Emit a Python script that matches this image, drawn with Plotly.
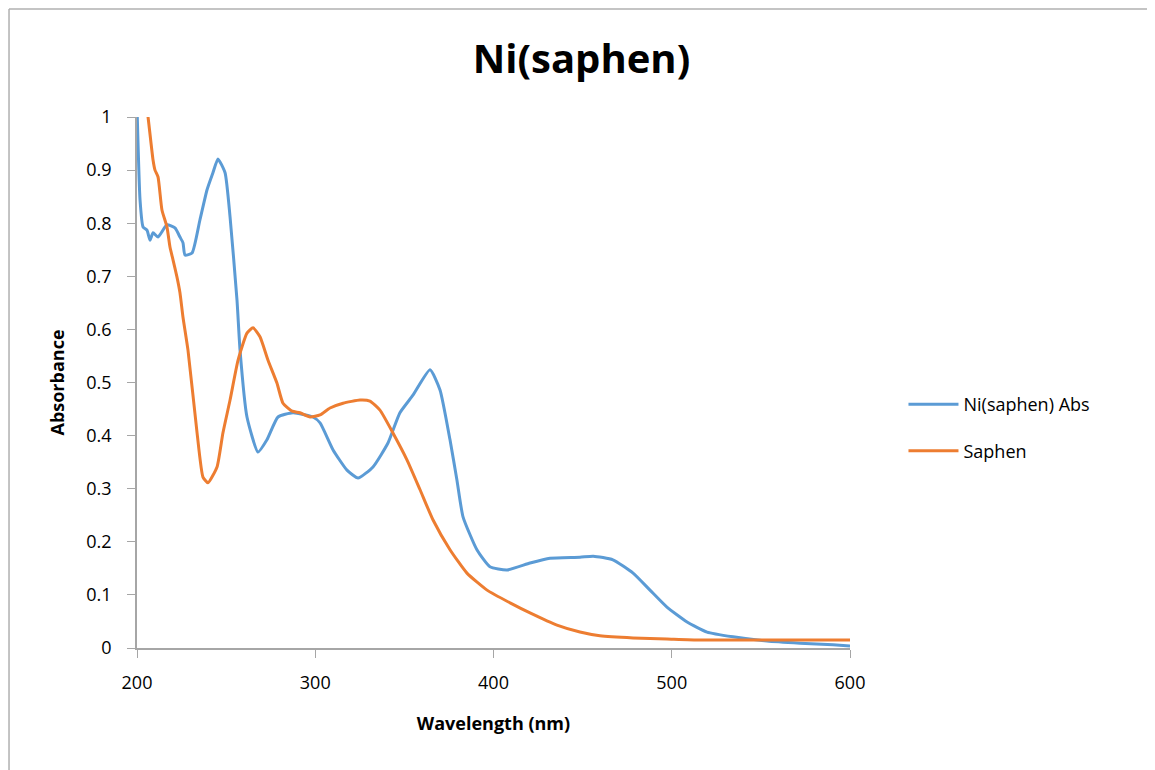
import plotly.graph_objects as go

# ---------------------------------------------------------------------------
# data
# ---------------------------------------------------------------------------

niWavelength = [
  200, 201.7, 203.4, 205.6, 207.3, 209.0, 211.8, 216.8, 221.3, 224.1,
  225.8, 226.9, 230.9, 235.3, 239.3, 242.6, 245.4, 249.4, 252.2, 256.1,
  257.8, 261.7, 267.9, 272.9, 279.1, 287.5, 298.7, 302.7, 310.0, 317.8,
  324.0, 332.4, 340.8, 347.5, 354.8, 364.4, 370.0, 375.6, 379.5, 382.9,
  390.7, 398.0, 407.6, 420.5, 431.7, 448.5, 456.0, 467.0, 478.3, 487.8,
  497.3, 508.6, 519.8, 534.4, 553.4, 572.0, 590.5, 600,
]
niAbs = [
  1.02, 0.844, 0.793, 0.787, 0.768, 0.782, 0.774, 0.797, 0.791, 0.774,
  0.763, 0.740, 0.744, 0.806, 0.863, 0.895, 0.921, 0.895, 0.812, 0.655,
  0.561, 0.435, 0.369, 0.392, 0.435, 0.443, 0.435, 0.424, 0.373, 0.335,
  0.320, 0.341, 0.386, 0.443, 0.476, 0.524, 0.486, 0.392, 0.316, 0.247,
  0.185, 0.153, 0.147, 0.160, 0.169, 0.171, 0.173, 0.166, 0.141, 0.109,
  0.077, 0.049, 0.030, 0.021, 0.013, 0.009, 0.006, 0.004,
]

saphenWavelength = [
  205.0, 206.2, 209.0, 210.1, 211.8, 214.0, 216.8, 218.5, 220.2, 222.4,
  224.1, 225.8, 228.6, 233.7, 237.0, 239.8, 244.9, 248.2, 252.2, 256.7,
  261.7, 265.1, 269.0, 273.5, 278.5, 281.9, 287.0, 291.4, 297.1, 302.7,
  308.3, 315.6, 325.1, 330.7, 336.3, 343.6, 351.5, 358.8, 366.1, 375.6,
  385.1, 396.4, 409.3, 420.5, 435.6, 448.5, 459.7, 478.3, 497.3, 515.9,
  553.4, 600,
]
saphenAbs = [
  1.03, 1.0, 0.919, 0.900, 0.887, 0.825, 0.793, 0.755, 0.731, 0.699,
  0.669, 0.623, 0.561, 0.405, 0.322, 0.311, 0.341, 0.405, 0.467, 0.542,
  0.593, 0.603, 0.586, 0.542, 0.499, 0.461, 0.446, 0.443, 0.435, 0.439,
  0.452, 0.461, 0.467, 0.465, 0.448, 0.405, 0.354, 0.298, 0.241, 0.185,
  0.141, 0.109, 0.085, 0.066, 0.043, 0.030, 0.023, 0.019, 0.017, 0.015,
  0.015, 0.015,
]

xTicks = [200, 300, 400, 500, 600]
yTicks = [0, 0.1, 0.2, 0.3, 0.4, 0.5, 0.6, 0.7, 0.8, 0.9, 1]

# ---------------------------------------------------------------------------
# chart
# ---------------------------------------------------------------------------

fontFamily = "Open Sans, Noto Sans, sans-serif"
axisGray = "#a6a6a6"

fig = go.Figure()
fig.add_trace(go.Scatter(
  x=niWavelength, y=niAbs, name="Ni(saphen) Abs", mode="lines",
  legendgroup="ni",
  line=dict(color="#5B9BD5", width=3, shape="spline", smoothing=0.5),
))
fig.add_trace(go.Scatter(
  x=saphenWavelength, y=saphenAbs, name="Saphen", mode="lines",
  legendgroup="saphen",
  line=dict(color="#ED7D31", width=3, shape="spline", smoothing=0.5),
))

# chart-area border (only top and left edges are visible in the crop)
borderStyle = dict(color="#b0b0b0", width=1.5)
fig.add_shape(type="line", xref="paper", yref="paper",
              x0=-0.1795, x1=1.43, y0=1.2034, y1=1.2034, line=borderStyle)
fig.add_shape(type="line", xref="paper", yref="paper",
              x0=-0.1795, x1=-0.1795, y0=-0.24, y1=1.2034, line=borderStyle)

# the page adds an 8px body margin, so the figure is 8px smaller
fig.update_layout(
  width=1147, height=762,
  margin=dict(l=129, r=305, t=109, b=122),
  paper_bgcolor="white", plot_bgcolor="white",
  font=dict(family=fontFamily, size=18, color="black"),
  title=dict(
    text="<b>Ni(saphen)</b>", x=0.5, xref="container",
    y=0.933, yanchor="middle",
    font=dict(family=fontFamily, size=40, color="black"),
  ),
  legend=dict(
    x=1.075, y=0.415, xanchor="left", yanchor="middle",
    font=dict(size=18), tracegroupgap=20, itemwidth=50,
  ),
  showlegend=True,
)
fig.update_xaxes(
  range=[200, 600], tickvals=xTicks, showgrid=False, zeroline=False,
  showline=True, linecolor=axisGray, linewidth=1.5,
  ticks="outside", ticklen=8, tickcolor=axisGray, ticklabelstandoff=10,
  title=dict(text="<b>Wavelength (nm)</b>", font=dict(size=18), standoff=24),
)
fig.update_yaxes(
  range=[0, 1], tickvals=yTicks, showgrid=False, zeroline=False,
  showline=True, linecolor=axisGray, linewidth=1.5,
  ticks="outside", ticklen=8, tickcolor=axisGray, ticklabelstandoff=12,
  title=dict(text="<b>Absorbance</b>", font=dict(size=18), standoff=17),
)

fig.write_html("out.html")
